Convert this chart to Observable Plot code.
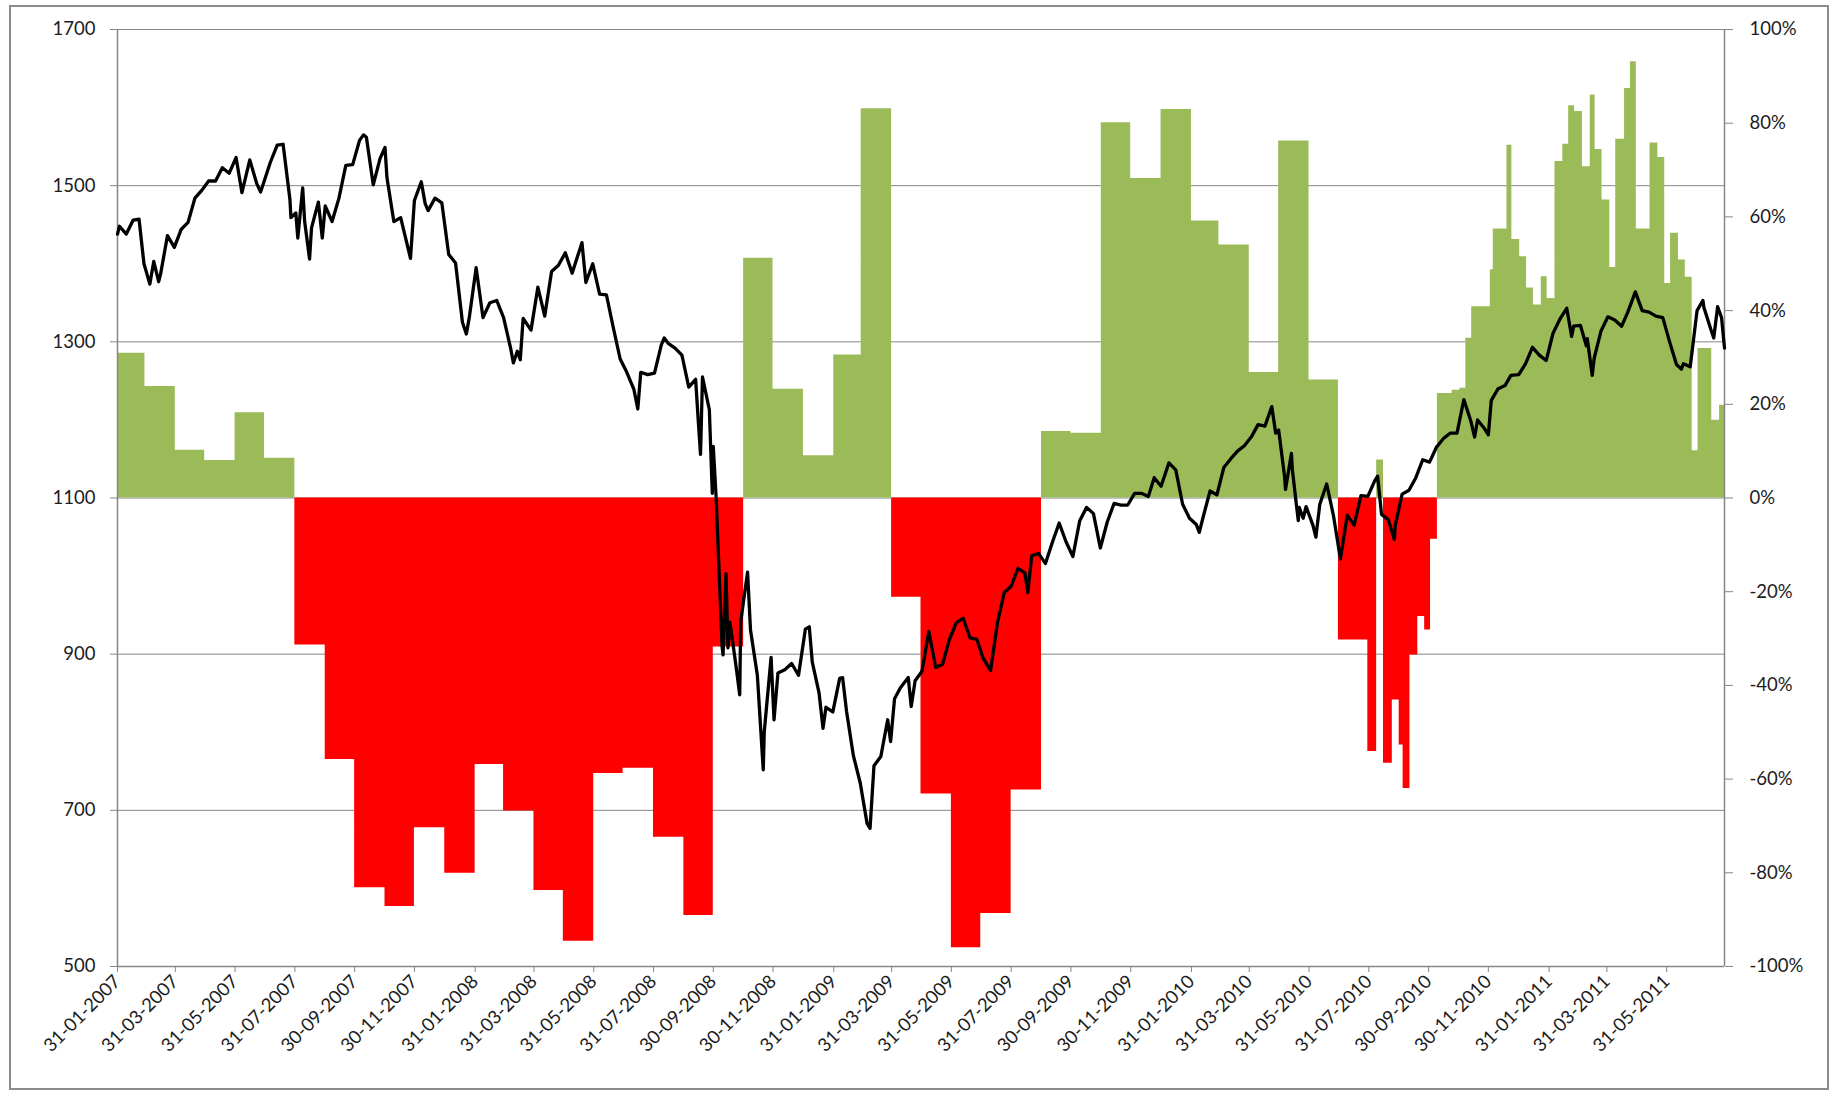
<!DOCTYPE html>
<html><head><meta charset="utf-8">
<script src="https://cdn.jsdelivr.net/npm/d3@7"></script>
<script src="https://cdn.jsdelivr.net/npm/@observablehq/plot@0.6"></script>
<style>
html,body{margin:0;padding:0;background:#fff;overflow:hidden}
#wrap{position:relative;width:1838px;height:1095px}
#wrap svg{position:absolute;left:0;top:0}
#frame{position:absolute;left:9px;top:5px;width:1820px;height:1085px;border:2px solid #8c8c8c;box-sizing:border-box;pointer-events:none}
</style></head><body><div id="wrap"><div id="frame"></div></div>
<script>
// ---- axis definitions ----
const axisStart = "2007-01-31";
const axisEnd = "2011-07-29";
const leftTicks = [500, 700, 900, 1100, 1300, 1500, 1700];
const pctTicks = [-100, -80, -60, -40, -20, 0, 20, 40, 60, 80, 100];
const xTickLabels = ["31-01-2007","31-03-2007","31-05-2007","31-07-2007","30-09-2007","30-11-2007",
  "31-01-2008","31-03-2008","31-05-2008","31-07-2008","30-09-2008","30-11-2008",
  "31-01-2009","31-03-2009","31-05-2009","31-07-2009","30-09-2009","30-11-2009",
  "31-01-2010","31-03-2010","31-05-2010","31-07-2010","30-09-2010","30-11-2010",
  "31-01-2011","31-03-2011","31-05-2011"];

// ---- percentage series (right axis), value from the given date onward ----
const pct2007 = [["2007-01-31",30.9],["2007-02-28",23.8],["2007-03-31",10.2],["2007-04-30",8.0],["2007-05-31",18.2],["2007-06-30",8.5],["2007-07-31",-31.4],["2007-08-31",-55.8],["2007-09-30",-83.2],["2007-10-31",-87.2],["2007-11-30",-70.4],["2007-12-31",-80.1]];
const pct2008 = [["2008-01-31",-56.9],["2008-02-29",-66.8],["2008-03-31",-83.8],["2008-04-30",-94.6],["2008-05-31",-58.8],["2008-06-30",-57.7],["2008-07-31",-72.4],["2008-08-31",-89.1],["2008-09-30",-31.8],["2008-10-31",51.2],["2008-11-30",23.2],["2008-12-31",9.0]];
const pct2009 = [["2009-01-31",30.5],["2009-02-28",83.1],["2009-03-31",-21.2],["2009-04-30",-63.2],["2009-05-31",-96.0],["2009-06-30",-88.7],["2009-07-31",-62.3],["2009-08-31",14.2],["2009-09-30",13.8],["2009-10-31",80.1],["2009-11-30",68.2],["2009-12-31",82.9]];
const pct2010 = [["2010-01-31",59.1],["2010-02-28",54.0],["2010-03-31",26.8],["2010-04-30",76.2],["2010-05-31",25.2],["2010-06-30",-30.3],["2010-07-30",-54.1],["2010-08-08",8.1],["2010-08-15",-56.6],["2010-08-24",-43.1],["2010-08-31",-52.7],["2010-09-04",-62.0],["2010-09-11",-33.5],["2010-09-19",-25.3],["2010-09-26",-28.2],["2010-10-02",-8.8],["2010-10-09",22.3],["2010-10-24",23.0],["2010-11-01",23.4],["2010-11-07",34.1],["2010-11-13",40.8],["2010-12-02",48.7],["2010-12-05",57.4],["2010-12-19",75.3],["2010-12-24",55.2]];
const pct2011 = [["2011-01-01",51.5],["2011-01-08",44.8],["2011-01-15",41.2],["2011-01-23",47.2],["2011-01-29",42.6],["2011-02-06",71.8],["2011-02-14",75.5],["2011-02-20",83.7],["2011-02-26",82.5],["2011-03-06",70.7],["2011-03-14",86.0],["2011-03-19",74.4],["2011-03-26",63.6],["2011-04-03",49.2],["2011-04-09",76.6],["2011-04-18",87.4],["2011-04-24",93.1],["2011-04-30",57.4],["2011-05-14",75.8],["2011-05-22",72.7],["2011-05-29",45.8],["2011-06-04",56.5],["2011-06-12",50.8],["2011-06-19",47.1],["2011-06-26",10.1],["2011-07-02",31.9],["2011-07-16",16.6],["2011-07-24",19.8]];

// ---- index level (left axis) ----
const spx2007 = [["2007-01-31",1438],["2007-02-02",1448],["2007-02-09",1438],["2007-02-16",1456],["2007-02-22",1457],["2007-02-27",1400],["2007-03-02",1387],["2007-03-05",1374],["2007-03-09",1403],["2007-03-14",1377],["2007-03-16",1387],["2007-03-23",1436],["2007-03-30",1421],["2007-04-06",1444],["2007-04-13",1453],["2007-04-20",1484],["2007-04-27",1494],["2007-05-04",1506],["2007-05-11",1506],["2007-05-18",1523],["2007-05-25",1516],["2007-06-01",1536],["2007-06-07",1491],["2007-06-15",1533],["2007-06-22",1503],["2007-06-26",1492],["2007-06-29",1503],["2007-07-06",1530],["2007-07-13",1552],["2007-07-19",1553],["2007-07-26",1482],["2007-07-27",1459],["2007-08-01",1465],["2007-08-03",1433],["2007-08-08",1497],["2007-08-10",1454],["2007-08-15",1406],["2007-08-17",1446],["2007-08-24",1479],["2007-08-28",1433],["2007-08-31",1474],["2007-09-07",1454],["2007-09-14",1484],["2007-09-21",1526],["2007-09-28",1527],["2007-10-05",1558],["2007-10-09",1565],["2007-10-12",1562],["2007-10-19",1501],["2007-10-26",1535],["2007-10-31",1549],["2007-11-02",1510],["2007-11-09",1454],["2007-11-16",1459],["2007-11-26",1407],["2007-11-30",1481],["2007-12-07",1505],["2007-12-11",1477],["2007-12-14",1468],["2007-12-21",1484],["2007-12-28",1478]];
const spx2008 = [["2008-01-04",1412],["2008-01-11",1401],["2008-01-18",1325],["2008-01-22",1310],["2008-01-25",1331],["2008-02-01",1395],["2008-02-08",1331],["2008-02-15",1350],["2008-02-22",1353],["2008-02-29",1331],["2008-03-07",1293],["2008-03-10",1273],["2008-03-14",1288],["2008-03-17",1277],["2008-03-20",1330],["2008-03-28",1315],["2008-04-04",1370],["2008-04-11",1333],["2008-04-18",1390],["2008-04-25",1398],["2008-05-02",1414],["2008-05-09",1388],["2008-05-19",1427],["2008-05-23",1376],["2008-05-30",1400],["2008-06-06",1361],["2008-06-13",1360],["2008-06-20",1318],["2008-06-27",1278],["2008-07-03",1263],["2008-07-11",1239],["2008-07-15",1214],["2008-07-18",1261],["2008-07-25",1258],["2008-08-01",1260],["2008-08-08",1296],["2008-08-11",1305],["2008-08-15",1298],["2008-08-22",1292],["2008-08-29",1283],["2008-09-05",1242],["2008-09-12",1252],["2008-09-15",1193],["2008-09-17",1156],["2008-09-19",1255],["2008-09-26",1213],["2008-09-29",1106],["2008-09-30",1166],["2008-10-03",1099],["2008-10-09",910],["2008-10-10",899],["2008-10-13",1003],["2008-10-15",908],["2008-10-17",941],["2008-10-22",896],["2008-10-24",877],["2008-10-27",848],["2008-10-28",941],["2008-10-31",969],["2008-11-04",1005],["2008-11-07",931],["2008-11-14",873],["2008-11-20",752],["2008-11-21",800],["2008-11-28",896],["2008-12-01",816],["2008-12-05",876],["2008-12-12",880],["2008-12-19",888],["2008-12-26",873]];
const spx2009 = [["2009-01-02",932],["2009-01-06",935],["2009-01-09",890],["2009-01-16",850],["2009-01-20",805],["2009-01-23",832],["2009-01-30",826],["2009-02-06",869],["2009-02-09",870],["2009-02-13",827],["2009-02-20",770],["2009-02-27",735],["2009-03-06",683],["2009-03-09",677],["2009-03-13",757],["2009-03-20",769],["2009-03-27",816],["2009-03-30",788],["2009-04-03",843],["2009-04-09",857],["2009-04-17",870],["2009-04-20",833],["2009-04-24",866],["2009-05-01",878],["2009-05-08",929],["2009-05-15",883],["2009-05-22",887],["2009-05-29",919],["2009-06-05",940],["2009-06-12",946],["2009-06-19",921],["2009-06-26",919],["2009-07-02",896],["2009-07-10",879],["2009-07-17",940],["2009-07-24",979],["2009-07-31",987],["2009-08-07",1010],["2009-08-14",1004],["2009-08-17",979],["2009-08-21",1026],["2009-08-28",1029],["2009-09-04",1016],["2009-09-11",1043],["2009-09-18",1068],["2009-09-25",1044],["2009-10-02",1025],["2009-10-09",1071],["2009-10-16",1088],["2009-10-23",1080],["2009-10-30",1036],["2009-11-06",1069],["2009-11-13",1093],["2009-11-20",1091],["2009-11-27",1091],["2009-12-04",1106],["2009-12-11",1106],["2009-12-18",1102],["2009-12-24",1126],["2009-12-31",1115]];
const spx2010 = [["2010-01-08",1145],["2010-01-15",1136],["2010-01-22",1092],["2010-01-29",1074],["2010-02-05",1066],["2010-02-08",1056],["2010-02-12",1076],["2010-02-19",1109],["2010-02-26",1104],["2010-03-05",1139],["2010-03-12",1150],["2010-03-19",1160],["2010-03-26",1167],["2010-04-02",1178],["2010-04-09",1194],["2010-04-16",1192],["2010-04-23",1217],["2010-04-27",1183],["2010-04-30",1187],["2010-05-06",1128],["2010-05-07",1111],["2010-05-13",1157],["2010-05-14",1136],["2010-05-20",1071],["2010-05-21",1088],["2010-05-25",1074],["2010-05-28",1089],["2010-06-04",1065],["2010-06-07",1050],["2010-06-11",1092],["2010-06-18",1118],["2010-06-25",1077],["2010-07-02",1022],["2010-07-09",1078],["2010-07-16",1065],["2010-07-23",1103],["2010-07-30",1102],["2010-08-06",1122],["2010-08-09",1128],["2010-08-13",1079],["2010-08-20",1072],["2010-08-26",1047],["2010-08-27",1065],["2010-09-03",1105],["2010-09-10",1110],["2010-09-17",1126],["2010-09-24",1149],["2010-10-01",1146],["2010-10-08",1165],["2010-10-15",1176],["2010-10-22",1183],["2010-10-29",1183],["2010-11-05",1226],["2010-11-12",1199],["2010-11-16",1178],["2010-11-19",1200],["2010-11-26",1189],["2010-11-30",1181],["2010-12-03",1225],["2010-12-10",1240],["2010-12-17",1244],["2010-12-23",1257],["2010-12-31",1258]];
const spx2011 = [["2011-01-07",1272],["2011-01-14",1293],["2011-01-21",1283],["2011-01-28",1276],["2011-02-04",1311],["2011-02-11",1329],["2011-02-18",1343],["2011-02-23",1307],["2011-02-25",1320],["2011-03-04",1321],["2011-03-10",1295],["2011-03-11",1304],["2011-03-16",1257],["2011-03-18",1279],["2011-03-25",1314],["2011-04-01",1332],["2011-04-08",1328],["2011-04-15",1320],["2011-04-21",1337],["2011-04-29",1364],["2011-05-06",1340],["2011-05-13",1338],["2011-05-20",1333],["2011-05-27",1331],["2011-06-03",1300],["2011-06-10",1271],["2011-06-15",1265],["2011-06-17",1272],["2011-06-24",1268],["2011-07-01",1340],["2011-07-07",1353],["2011-07-08",1344],["2011-07-15",1316],["2011-07-18",1305],["2011-07-22",1345],["2011-07-26",1331],["2011-07-29",1292]];

// ---- build tables ----
const parse = d3.utcParse("%Y-%m-%d");
const parseTick = d3.utcParse("%d-%m-%Y");
const xStart = parse(axisStart), xEnd = parse(axisEnd);
const spx = [...spx2007, ...spx2008, ...spx2009, ...spx2010, ...spx2011].map(([d, v]) => ({date: parse(d), value: v}));
const pct = [...pct2007, ...pct2008, ...pct2009, ...pct2010, ...pct2011].map(([d, v]) => ({date: parse(d), v}));
pct.push({date: xEnd, v: pct[pct.length - 1].v});
const toY = p => 1100 + 6 * p;   // right axis (-100%..100%) aligned with left (500..1700)
const tickDates = xTickLabels.map(parseTick);
const gray = "#868686";
const ink = "#1c1c1c";

const chart = Plot.plot({
  width: 1838, height: 1095,
  marginLeft: 117, marginRight: 114, marginTop: 29, marginBottom: 129,
  style: {fontFamily: "Lato, 'Open Sans', sans-serif", fontSize: "18.5px", background: "transparent", color: ink},
  x: {type: "utc", domain: [xStart, xEnd]},
  y: {domain: [500, 1700]},
  marks: [
    Plot.ruleY(leftTicks, {stroke: gray, strokeWidth: 1}),
    Plot.areaY(pct, {x: "date", y1: 1100, y2: d => toY(Math.max(d.v, 0)), curve: "step-after", fill: "#9BBB59"}),
    Plot.areaY(pct, {x: "date", y1: 1100, y2: d => toY(Math.min(d.v, 0)), curve: "step-after", fill: "#FF0000"}),
    Plot.ruleX([xStart, xEnd], {stroke: gray, strokeWidth: 1.5}),
    Plot.ruleY([500], {stroke: gray, strokeWidth: 1.5}),
    Plot.axisY(leftTicks, {anchor: "left", tickSize: 7, tickPadding: 15, stroke: gray, fill: ink, label: null,
      tickFormat: d => String(d)}),
    Plot.axisY(pctTicks.map(toY), {anchor: "right", tickSize: 8, tickPadding: 17, stroke: gray, fill: ink, label: null,
      tickFormat: d => `${Math.round((d - 1100) / 6)}%`}),
    Plot.axisX(tickDates, {anchor: "bottom", tickSize: 6, tickPadding: 6, tickRotate: -45, stroke: gray, fill: ink, label: null,
      tickFormat: d3.utcFormat("%d-%m-%Y")}),
    Plot.line(spx, {x: "date", y: "value", stroke: "#000", strokeWidth: 3.3, strokeLinejoin: "round"})
  ]
});
document.getElementById("wrap").prepend(chart);
</script>
</body></html>
